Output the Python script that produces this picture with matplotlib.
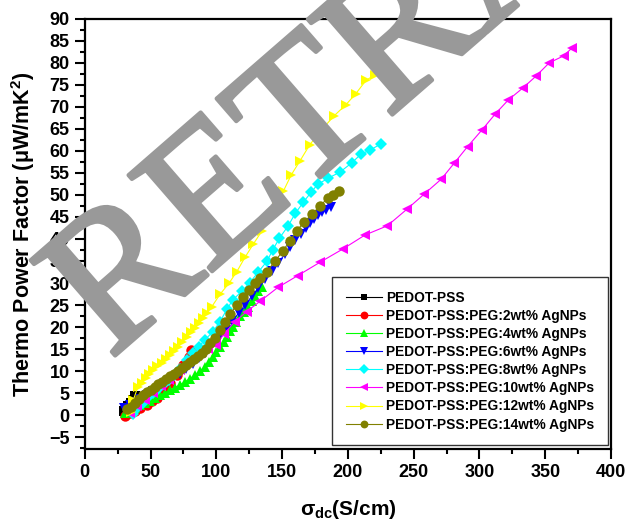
import matplotlib
matplotlib.use("Agg")
import matplotlib.pyplot as plt
import matplotlib.patheffects as pe
from matplotlib.ticker import MultipleLocator

plt.rcParams['font.family'] = ['Liberation Sans', 'DejaVu Sans']
plt.rcParams['font.weight'] = 'bold'
plt.rcParams['mathtext.fontset'] = 'custom'
plt.rcParams['mathtext.rm'] = 'Liberation Sans:bold'
plt.rcParams['mathtext.it'] = 'Liberation Sans:bold'
plt.rcParams['mathtext.bf'] = 'Liberation Sans:bold'

# conductivity (S/cm) vs thermo power factor (uW/mK^2)
x_pss = [29.5, 31, 33, 35, 36.5, 38]
y_pss = [0.9, 1.4, 2.0, 2.7, 3.4, 4.3]

x_2 = [30.5, 34, 38, 42, 47, 51, 55, 60, 65, 70, 75, 79, 81]
y_2 = [-0.3, 0.4, 1.0, 1.6, 2.3, 3.1, 3.9, 5.5, 7.3, 9.2, 11.3, 13.3, 14.8]

x_4 = [30.4, 34, 38, 42, 45.6, 49.5, 53.2, 57, 60.8, 64.6, 68.4, 72, 76, 80,
       83.7, 87.5, 91.3, 94.5, 97.4, 100, 102.7, 105.5, 108, 110.5, 112.5,
       115, 118, 121, 124, 127, 129, 132, 135]
y_4 = [0.5, 1.0, 1.6, 2.2, 2.7, 3.3, 3.9, 4.5, 5.0, 5.6, 6.2, 6.8, 7.5, 8.3,
       9.1, 10.0, 11.0, 12.1, 13.2, 14.3, 15.5, 16.7, 17.8, 19.0, 20.1,
       21.2, 22.4, 23.5, 24.6, 25.8, 27.0, 28.2, 29.2]

x_6 = [30, 34, 38, 42, 47, 52, 57, 62, 67, 72, 77, 82, 87, 92, 97, 102, 107,
       112, 117, 122, 127, 132, 137, 142, 147, 152, 156, 160, 164, 168, 171,
       174, 177, 180, 183, 187]
y_6 = [1.5, 2.3, 3.0, 3.7, 4.6, 5.5, 6.4, 7.3, 8.3, 9.3, 10.4, 11.6, 12.9,
       14.3, 15.9, 17.6, 19.4, 21.3, 23.2, 25.1, 27.0, 28.9, 30.8, 32.7, 34.6,
       36.5, 38.1, 39.7, 41.2, 42.6, 43.7, 44.6, 45.4, 46.1, 46.6, 47.2]

x_8 = [36.5, 40, 44, 48, 52, 56, 60, 64, 68, 72, 77.6, 82, 86.5, 91.3, 97.3,
       102.7, 108, 112.5, 119.4, 125.5, 131.6, 138.4, 143, 148, 154.4, 160,
       166, 172, 177, 185, 194, 203, 210, 217, 225]
y_8 = [0.2, 1.5, 2.8, 4.0, 5.0, 6.0, 7.0, 8.0, 9.2, 10.5, 12.5, 14.0, 15.5,
       17.1, 18.9, 21.2, 24.0, 26.2, 28.1, 30.1, 32.4, 34.9, 37.6, 40.2, 42.9,
       45.8, 48.3, 50.6, 52.4, 53.8, 55.2, 57.3, 59.3, 60.2, 61.6]

x_10 = [34, 40, 46, 52, 58, 64, 72, 80, 88, 94, 100, 106, 114, 123, 133,
        146.8, 162, 178.7, 196, 213, 230, 245, 258, 271, 281, 291, 302, 312,
        322, 333, 343, 353, 364, 370]
y_10 = [0.5, 2.0, 3.5, 5.0, 6.5, 8.0, 10.3, 12.5, 14.0, 15.0, 16.0, 18.5,
        21.2, 23.5, 25.8, 29.0, 31.7, 34.7, 37.7, 40.9, 43.0, 46.8, 50.2,
        53.6, 57.3, 61.0, 64.8, 68.4, 71.6, 74.3, 77.0, 80.0, 81.6, 83.3]

x_12 = [35.5, 37, 40.3, 43.5, 46.4, 49, 51.7, 55, 58.5, 61.5, 64.6, 67.5,
        70.7, 74, 77.6, 80.5, 83.7, 86.5, 89.7, 93, 96.5, 102.7, 109.5, 115.6,
        121.7, 128, 134.6, 140.7, 146, 151, 157, 163.5, 171, 180, 189.6,
        198.5, 206, 213.7, 220.5, 228]
y_12 = [0.8, 3.5, 6.4, 7.4, 8.4, 9.4, 10.3, 11.1, 11.9, 12.8, 13.7, 14.6,
        15.5, 16.6, 17.8, 18.8, 19.8, 20.9, 22.1, 23.3, 24.6, 27.4, 29.9, 32.6,
        35.8, 38.8, 41.8, 44.9, 47.9, 50.9, 54.6, 57.7, 61.4, 64.8, 68.0,
        70.5, 73.0, 76.0, 77.3, 78.5]

x_14 = [32, 35, 38, 41, 44, 47, 50, 53, 56, 59, 62, 65, 68, 71, 74, 77, 80,
        83, 86, 89, 92, 95.5, 99, 102.7, 106.5, 110.5, 115.6, 120, 125, 129,
        133, 138.4, 144.5, 150.3, 155.8, 161, 166.5, 172.6, 178.7, 184.8,
        188.5, 193]
y_14 = [1.3, 1.9, 2.8, 3.7, 4.5, 5.2, 5.8, 6.4, 7.1, 7.6, 8.2, 8.8, 9.4, 10.0,
        10.6, 11.3, 12.0, 12.7, 13.4, 14.2, 15.0, 16.3, 17.6, 19.4, 21.2, 22.9,
        25.1, 26.9, 28.4, 29.9, 31.2, 32.6, 34.9, 37.2, 39.5, 41.8, 43.8, 45.6,
        47.5, 49.3, 50.0, 50.8]

series = [
    (x_pss, y_pss, 'black', 's', 'PEDOT-PSS'),
    (x_2, y_2, '#ff0000', 'o', 'PEDOT-PSS:PEG:2wt% AgNPs'),
    (x_4, y_4, '#00ff00', '^', 'PEDOT-PSS:PEG:4wt% AgNPs'),
    (x_6, y_6, '#0000ff', 'v', 'PEDOT-PSS:PEG:6wt% AgNPs'),
    (x_8, y_8, '#00ffff', 'D', 'PEDOT-PSS:PEG:8wt% AgNPs'),
    (x_10, y_10, '#ff00ff', '<', 'PEDOT-PSS:PEG:10wt% AgNPs'),
    (x_12, y_12, '#ffff00', '>', 'PEDOT-PSS:PEG:12wt% AgNPs'),
    (x_14, y_14, '#808000', 'o', 'PEDOT-PSS:PEG:14wt% AgNPs'),
]

fig = plt.figure(figsize=(6.28, 5.23), dpi=100)
ax = fig.add_axes([0.135, 0.1415, 0.838, 0.8225])

for xs, ys, c, m, lab in series:
    ms = 6.5 if m in ('D', 's') else 7.5
    ax.plot(xs, ys, color=c, marker=m, markersize=ms, markeredgewidth=0,
            linewidth=0.8, label=lab)

ax.set_xlim(0, 400)
ax.set_ylim(-7.7, 90)
ax.xaxis.set_major_locator(MultipleLocator(50))
ax.xaxis.set_minor_locator(MultipleLocator(25))
ax.yaxis.set_major_locator(MultipleLocator(5))
ax.yaxis.set_minor_locator(MultipleLocator(2.5))
ax.tick_params(which='major', direction='out', length=7, width=1.5,
               labelsize=13, top=False, right=False, pad=4)
ax.tick_params(which='minor', direction='out', length=3.5, width=1.5,
               top=False, right=False)
for lbl in ax.get_xticklabels() + ax.get_yticklabels():
    lbl.set_fontweight('bold')
for sp in ax.spines.values():
    sp.set_linewidth(1.6)

ax.set_xlabel(r'$\sigma_{dc}$(S/cm)', fontsize=15, fontweight='bold', labelpad=12)
ax.set_ylabel(r'Thermo Power Factor ($\mu$W/mK$^{2}$)', fontsize=15.5,
              fontweight='bold', labelpad=9)

leg = ax.legend(loc='upper right', bbox_to_anchor=(0.994, 0.40),
                borderaxespad=0, fontsize=9.9, frameon=True, fancybox=False,
                handlelength=2.6, handletextpad=0.3, markerscale=0.75,
                labelspacing=0.3, borderpad=1.0)
leg.get_frame().set_edgecolor('black')
leg.get_frame().set_linewidth(1.0)
for t in leg.get_texts():
    t.set_fontweight('bold')

# retraction stamp across the plot
stamp = fig.text(110 / 628, 1 - 360 / 523, 'RETRACTED', fontsize=140,
                 color='#999999', family=['Liberation Serif', 'DejaVu Serif'],
                 fontweight='normal', rotation=41, rotation_mode='anchor',
                 ha='left', va='baseline', zorder=10)
stamp.set_path_effects([pe.withStroke(linewidth=3, foreground='#999999')])

fig.savefig('out.png', dpi=100)
